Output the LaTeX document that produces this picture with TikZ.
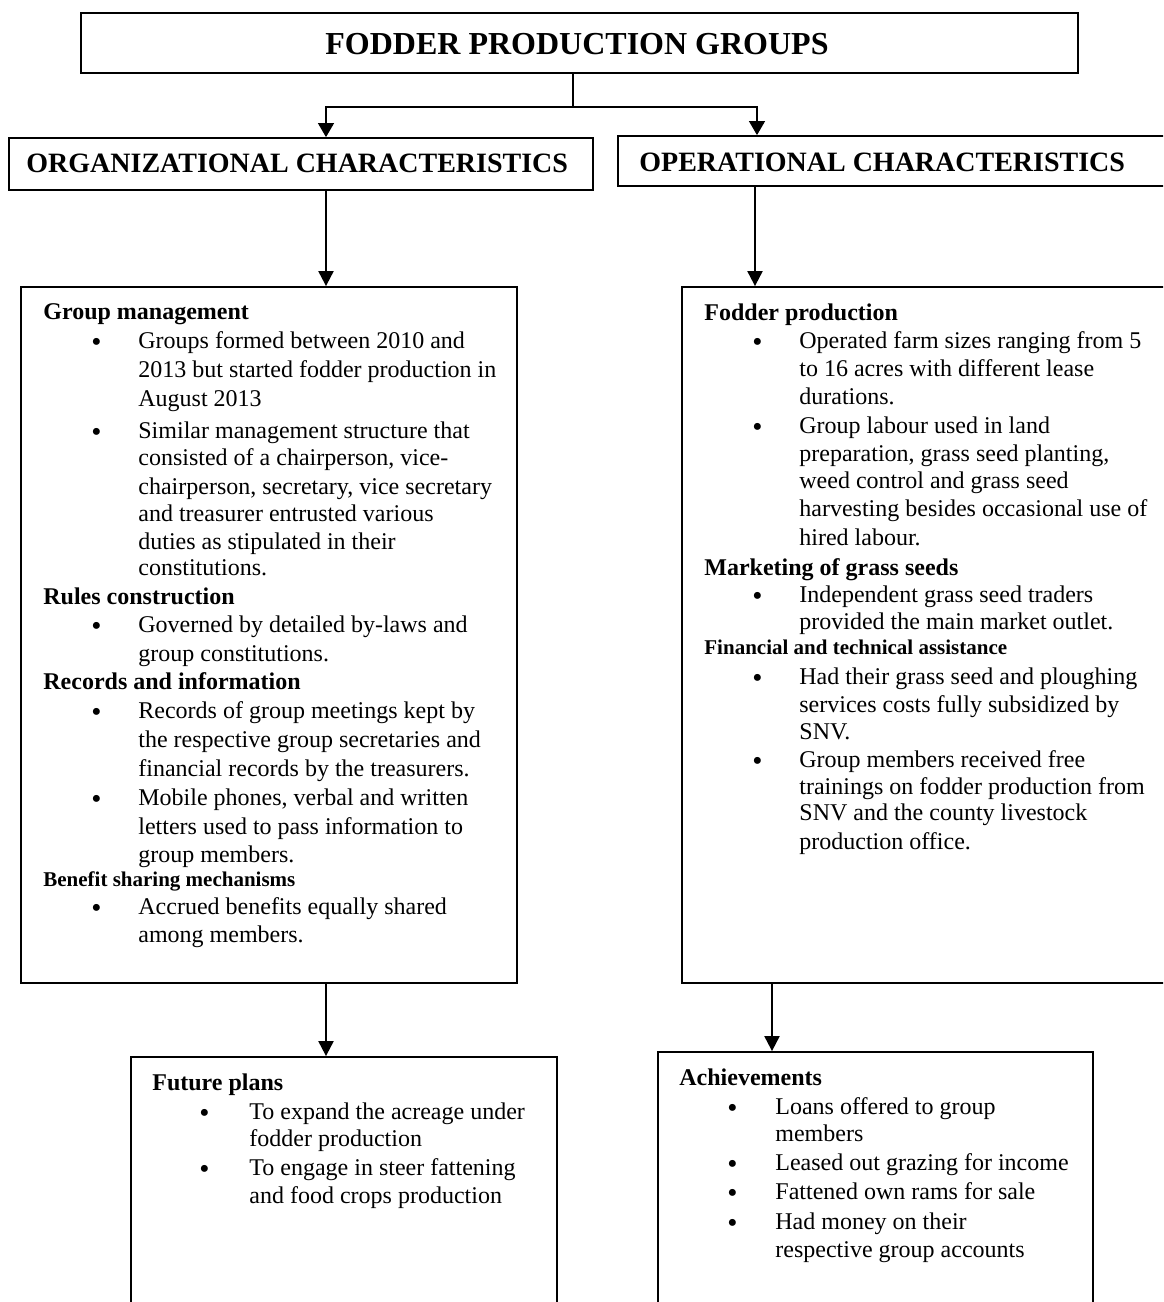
\documentclass[tikz,border=0pt]{standalone}
\usepackage{fontspec}
\setmainfont{Liberation Serif}
\usetikzlibrary{arrows.meta,fit}
\newcommand\mytl[4]{\node[#1] (#2) at (#3) {#4};}
\begin{document}
\begin{tikzpicture}[x=0.5pt,y=-0.5pt,
  box/.style={draw, line width=0.9pt, inner sep=0pt},
  ln/.style={anchor=base west, inner sep=0pt, font=\fontsize{12}{14}\selectfont},
  hd/.style={ln, font=\fontsize{12}{14}\selectfont\bfseries},
  hds/.style={ln, font=\fontsize{10.5}{12}\selectfont\bfseries},
  bul/.style={anchor=base west, inner sep=0pt, yshift=-1.5pt, font=\fontsize{14.5}{14}\selectfont},
  arr/.style={line width=1pt, -{Triangle[length=7.5pt,width=7.5pt]}},
  thinarr/.style={line width=0.6pt, {Triangle[length=7pt,width=8pt]}-{Triangle[length=7pt,width=8pt]}}
]
\useasboundingbox (0,0) rectangle (1163,1302);
\clip (0,0) rectangle (1163,1302);
% boxes
\node[box, fit={(81,13) (1078,73)}] (title) {};
\node[box, fit={(9,138) (593,190)}] (org) {};
\node[box, fit={(618,136) (1185,186)}] (op) {};
\node[box, fit={(21,287) (517,983)}] (bigL) {};
\node[box, fit={(682,287) (1185,983)}] (bigR) {};
\node[box, fit={(131,1057) (557,1330)}] (fut) {};
\node[box, fit={(658,1052) (1093,1330)}] (ach) {};
% box titles
\node[anchor=base, inner sep=0pt, font=\fontsize{16}{18}\selectfont\bfseries] (ttext) at (577,54) {FODDER PRODUCTION GROUPS};
\node[anchor=base west, inner sep=0pt, font=\fontsize{14}{16}\selectfont\bfseries] (otext) at (26,172) {ORGANIZATIONAL CHARACTERISTICS};
\node[anchor=base west, inner sep=0pt, font=\fontsize{14}{16}\selectfont\bfseries] (ptext) at (639,171) {OPERATIONAL CHARACTERISTICS};
% connector coordinates
\coordinate (stem) at (573,107);
\coordinate (brL) at (326,107);
\coordinate (brR) at (757,107);
\coordinate (cL) at (326,0);
\coordinate (cR) at (755,0);
\coordinate (cR2) at (772,0);
\draw[line width=0.6pt] (stem |- title.south) -- (stem);
\draw[thinarr] (brL |- org.north) -- (brL) -- (brR) -- (brR |- op.north);
\draw[arr] (cL |- org.south) -- (cL |- bigL.north);
\draw[arr] (cR |- op.south) -- (cR |- bigR.north);
\draw[arr] (cL |- bigL.south) -- (cL |- fut.north);
\draw[arr] (cR2 |- bigR.south) -- (cR2 |- ach.north);
% left big box
\mytl{hd}{gm}{43,319}{Group management}
\mytl{bul}{b1}{91,348}{\textbullet}
\mytl{ln}{l1}{138,348}{Groups formed between 2010 and}
\mytl{ln}{l2}{138,377}{2013 but started fodder production in}
\mytl{ln}{l3}{138,406}{August 2013}
\mytl{bul}{b2}{91,438}{\textbullet}
\mytl{ln}{l4}{138,438}{Similar management structure that}
\mytl{ln}{l5}{138,465}{consisted of a chairperson, vice-}
\mytl{ln}{l6}{138,494}{chairperson, secretary, vice secretary}
\mytl{ln}{l7}{138,521}{and treasurer entrusted various}
\mytl{ln}{l8}{138,549}{duties as stipulated in their}
\mytl{ln}{l9}{138,575}{constitutions.}
\mytl{hd}{rc}{43,604}{Rules construction}
\mytl{bul}{b3}{91,632}{\textbullet}
\mytl{ln}{l10}{138,632}{Governed by detailed by-laws and}
\mytl{ln}{l11}{138,661}{group constitutions.}
\mytl{hd}{ri}{43,689}{Records and information}
\mytl{bul}{b4}{91,718}{\textbullet}
\mytl{ln}{l12}{138,718}{Records of group meetings kept by}
\mytl{ln}{l13}{138,747}{the respective group secretaries and}
\mytl{ln}{l14}{138,776}{financial records by the treasurers.}
\mytl{bul}{b5}{91,805}{\textbullet}
\mytl{ln}{l15}{138,805}{Mobile phones, verbal and written}
\mytl{ln}{l16}{138,834}{letters used to pass information to}
\mytl{ln}{l17}{138,862}{group members.}
\mytl{hds}{bs}{43,886}{Benefit sharing mechanisms}
\mytl{bul}{b6}{91,914}{\textbullet}
\mytl{ln}{l18}{138,914}{Accrued benefits equally shared}
\mytl{ln}{l19}{138,942}{among members.}
% right big box
\mytl{hd}{fp}{704,320}{Fodder production}
\mytl{bul}{rb1}{752,348}{\textbullet}
\mytl{ln}{r1}{799,348}{Operated farm sizes ranging from 5}
\mytl{ln}{r2}{799,376}{to 16 acres with different lease}
\mytl{ln}{r3}{799,404}{durations.}
\mytl{bul}{rb2}{752,433}{\textbullet}
\mytl{ln}{r4}{799,433}{Group labour used in land}
\mytl{ln}{r5}{799,461}{preparation, grass seed planting,}
\mytl{ln}{r6}{799,488}{weed control and grass seed}
\mytl{ln}{r7}{799,516}{harvesting besides occasional use of}
\mytl{ln}{r8}{799,545}{hired labour.}
\mytl{hd}{mg}{704,575}{Marketing of grass seeds}
\mytl{bul}{rb3}{752,602}{\textbullet}
\mytl{ln}{r9}{799,602}{Independent grass seed traders}
\mytl{ln}{r10}{799,629}{provided the main market outlet.}
\mytl{hds}{ft}{704,654}{Financial and technical assistance}
\mytl{bul}{rb4}{752,684}{\textbullet}
\mytl{ln}{r11}{799,684}{Had their grass seed and ploughing}
\mytl{ln}{r12}{799,712}{services costs fully subsidized by}
\mytl{ln}{r13}{799,739}{SNV.}
\mytl{bul}{rb5}{752,767}{\textbullet}
\mytl{ln}{r14}{799,767}{Group members received free}
\mytl{ln}{r15}{799,794}{trainings on fodder production from}
\mytl{ln}{r16}{799,820}{SNV and the county livestock}
\mytl{ln}{r17}{799,849}{production office.}
% future plans
\mytl{hd}{fu}{152,1090}{Future plans}
\mytl{bul}{fb1}{199,1119}{\textbullet}
\mytl{ln}{f1}{249,1119}{To expand the acreage under}
\mytl{ln}{f2}{249,1146}{fodder production}
\mytl{bul}{fb2}{199,1175}{\textbullet}
\mytl{ln}{f3}{249,1175}{To engage in steer fattening}
\mytl{ln}{f4}{249,1203}{and food crops production}
% achievements
\mytl{hd}{ac}{679,1085}{Achievements}
\mytl{bul}{ab1}{727,1114}{\textbullet}
\mytl{ln}{a1}{775,1114}{Loans offered to group}
\mytl{ln}{a2}{775,1141}{members}
\mytl{bul}{ab2}{727,1170}{\textbullet}
\mytl{ln}{a3}{775,1170}{Leased out grazing for income}
\mytl{bul}{ab3}{727,1199}{\textbullet}
\mytl{ln}{a4}{775,1199}{Fattened own rams for sale}
\mytl{bul}{ab4}{727,1229}{\textbullet}
\mytl{ln}{a5}{775,1229}{Had money on their}
\mytl{ln}{a6}{775,1257}{respective group accounts}
\end{tikzpicture}
\end{document}
